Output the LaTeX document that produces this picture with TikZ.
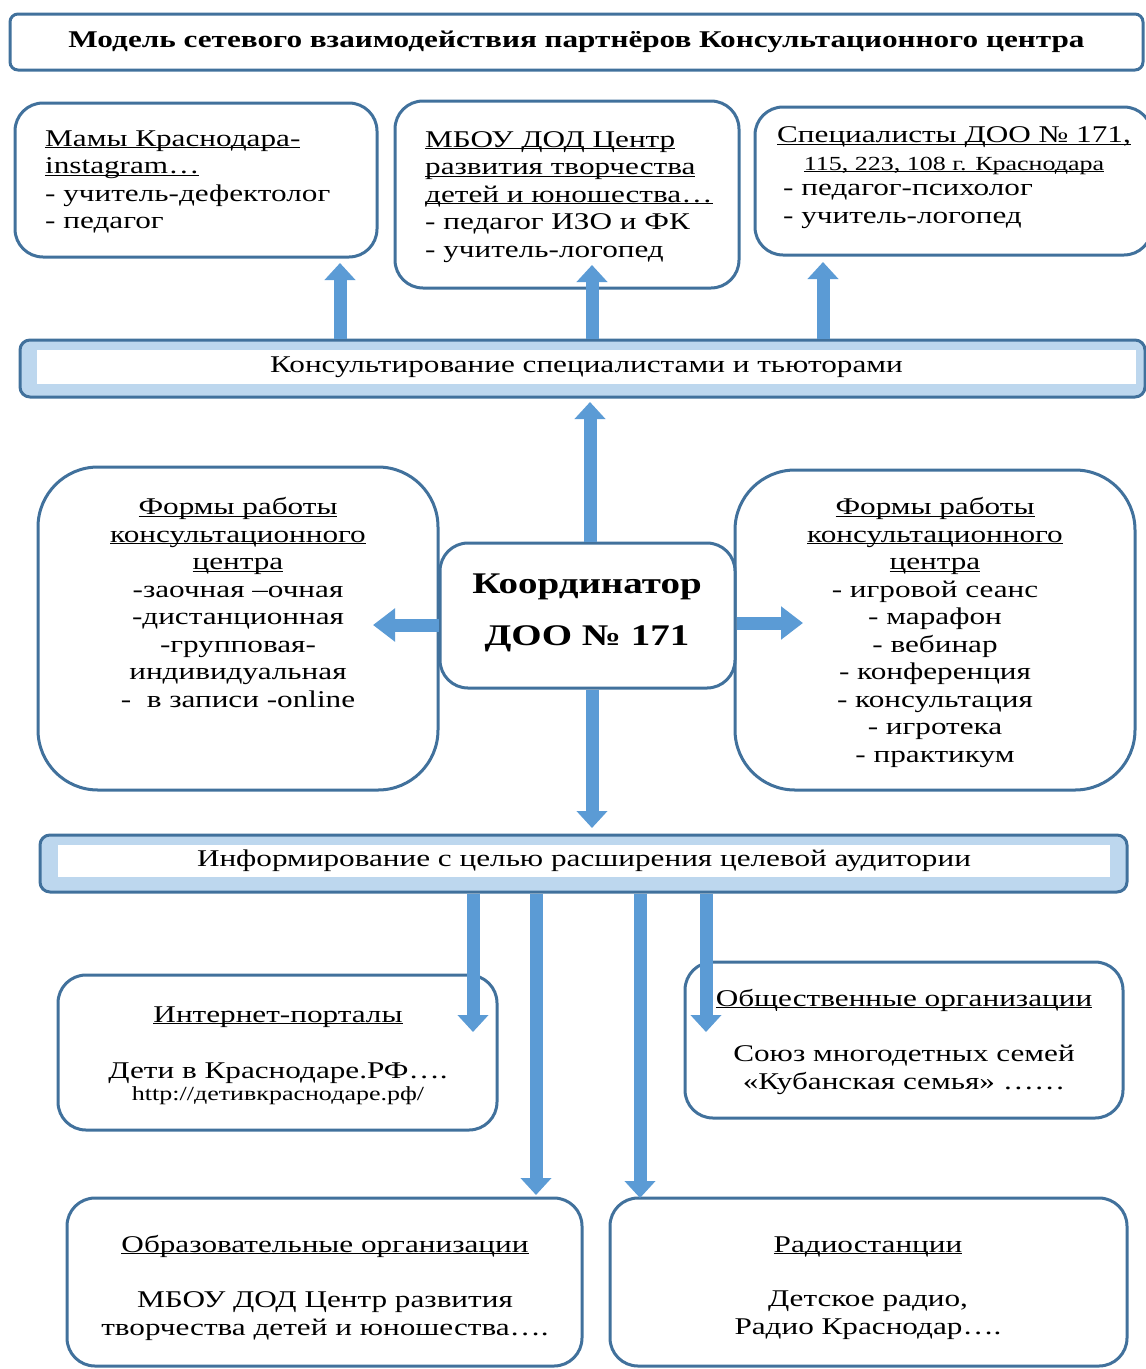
\documentclass[tikz,border=0pt]{standalone}
\usepackage{fontspec}
\setmainfont{Liberation Serif}[FakeStretch=1.3]
\usetikzlibrary{arrows.meta}
\definecolor{boxc}{RGB}{65,113,156}
\definecolor{arrc}{RGB}{91,155,213}
\definecolor{barc}{RGB}{189,215,238}
\newcommand\ulx[1]{\underline{\smash{#1}}}
\newcommand\fa{\fontsize{24}{27.5}\selectfont}
\newcommand\fb{\fontsize{20}{23}\selectfont}
\begin{document}
\begin{tikzpicture}[x=1pt,y=-1pt,
  box/.style={draw=boxc,line width=3pt,fill=white,rounded corners=28pt,inner sep=0pt},
  bar/.style={draw=boxc,line width=3pt,fill=barc,rounded corners=10pt,inner sep=0pt},
  barin/.style={fill=white,inner sep=0pt,font=\fa},
  txt/.style={inner sep=0pt,font=\fa},
  blk/.style={draw=arrc,line width=13pt,-{Triangle[width=30pt,length=17pt]}},
  blkh/.style={draw=arrc,line width=13pt,-{Triangle[width=32pt,length=22pt]}},
]
\useasboundingbox (0,0) rectangle (1146,1369);
% title
\node[box,rounded corners=8pt,minimum width=1133pt,minimum height=56pt,
  font=\bfseries\fontsize{24}{28}\selectfont] (title) at (576.5,42)
  {Модель сетевого взаимодействия партнёров Консультационного центра};
% top boxes
\node[box,minimum width=362pt,minimum height=154pt] (mamy) at (196,180) {};
\node[txt,align=left,anchor=base west] (mamyT) at (45,228.5)
  {\ulx{Мамы Краснодара-}\\\ulx{instagram…}\\- учитель-дефектолог\\- педагог};
\node[box,minimum width=344pt,minimum height=187pt] (mbou) at (567,194.5) {};
\node[txt,align=left,anchor=base west] (mbouT) at (425,257)
  {\ulx{МБОУ ДОД Центр}\\\ulx{развития творчества}\\\ulx{детей и юношества…}\\- педагог ИЗО и ФК\\- учитель-логопед};
\node[box,minimum width=397pt,minimum height=148pt] (spec) at (953.5,181) {};
\node[txt,align=center,anchor=base] (specH) at (954,170)
  {\ulx{Специалисты ДОО № 171,}\\{\fb\ulx{115, 223, 108 г. Краснодара}}};
\node[txt,align=left,anchor=base west] (specT) at (783,223)
  {- педагог-психолог\\- учитель-логопед};
% bar 1
\node[bar,minimum width=1125pt,minimum height=57pt] (bar1) at (582.5,368.5) {};
\node[barin,minimum width=1099pt,minimum height=34pt] (bar1in) at (586.5,367)
  {Консультирование специалистами и тьюторами};
\coordinate (t1) at (340,263);
\coordinate (t2) at (592,265);
\coordinate (t3) at (823,262);
\draw[blk] (bar1.north -| t1) -- (t1);
\draw[blk] (bar1.north -| t2) -- (t2);
\draw[blk] (bar1.north -| t3) -- (t3);
% middle
\node[box,rounded corners=60pt,minimum width=400pt,minimum height=323pt] (formL) at (238,628.5) {};
\node[txt,align=center,anchor=base] (formLT) at (238,707)
  {\ulx{Формы работы}\\\ulx{консультационного}\\\ulx{центра}\\-заочная –очная\\-дистанционная\\-групповая-\\индивидуальная\\-\ \ в записи -online};
\node[box,rounded corners=60pt,minimum width=400pt,minimum height=320pt] (formR) at (935,630) {};
\node[txt,align=center,anchor=base] (formRT) at (935,762)
  {\ulx{Формы работы}\\\ulx{консультационного}\\\ulx{центра}\\- игровой сеанс\\- марафон\\- вебинар\\- конференция\\- консультация\\- игротека\\- практикум};
\node[box,minimum width=295pt,minimum height=145pt] (coord) at (587.5,615.5) {};
\node[txt,font=\bfseries\fontsize{30}{52}\selectfont,align=center,anchor=base] (coordT) at (587,645)
  {Координатор\\ДОО № 171};
\coordinate (tu) at (590,402);
\coordinate (tl) at (373,625);
\coordinate (tr) at (803,623);
\coordinate (td) at (592,828);
\draw[blk] (coord.north -| tu) -- (tu);
\draw[blkh] (coord.west |- tl) -- (tl);
\draw[blkh] (coord.east |- tr) -- (tr);
\draw[blk] (coord.south -| td) -- (td);
% bar 2
\node[bar,minimum width=1087pt,minimum height=57pt] (bar2) at (583.5,863.5) {};
\node[barin,minimum width=1052pt,minimum height=32pt] (bar2in) at (584,861)
  {Информирование с целью расширения целевой аудитории};
% lower boxes
\node[box,minimum width=439pt,minimum height=155pt] (inet) at (277.5,1052.5) {};
\node[txt,anchor=base] (inetH) at (278,1022) {\ulx{Интернет-порталы}};
\node[txt,anchor=base] (inetT) at (278,1078) {Дети в Краснодаре.РФ….};
\node[txt,font=\fb,anchor=base] (inetU) at (278,1100) {http://детивкраснодаре.рф/};
\node[box,minimum width=438pt,minimum height=156pt] (obsh) at (904,1040) {};
\node[txt,anchor=base] (obshH) at (904,1006) {\ulx{Общественные организации}};
\node[txt,align=center,anchor=base] (obshT) at (904,1089) {Союз многодетных семей\\«Кубанская семья» ……};
\node[box,minimum width=515pt,minimum height=168pt] (obraz) at (324.5,1282) {};
\node[txt,anchor=base] (obrazH) at (325,1252) {\ulx{Образовательные организации}};
\node[txt,align=center,anchor=base] (obrazT) at (325,1335) {МБОУ ДОД Центр развития\\творчества детей и юношества….};
\node[box,minimum width=517pt,minimum height=168pt] (radio) at (868.5,1282) {};
\node[txt,anchor=base] (radioH) at (868,1252) {\ulx{Радиостанции}};
\node[txt,align=center,anchor=base] (radioT) at (868,1334) {Детское радио,\\Радио Краснодар….};
\coordinate (d1) at (473,1032);
\coordinate (d2) at (536,1195);
\coordinate (d3) at (640,1198);
\coordinate (d4) at (706,1032);
\draw[blk] (bar2.south -| d1) -- (d1);
\draw[blk] (bar2.south -| d2) -- (d2);
\draw[blk] (bar2.south -| d3) -- (d3);
\draw[blk] (bar2.south -| d4) -- (d4);
\end{tikzpicture}
\end{document}
